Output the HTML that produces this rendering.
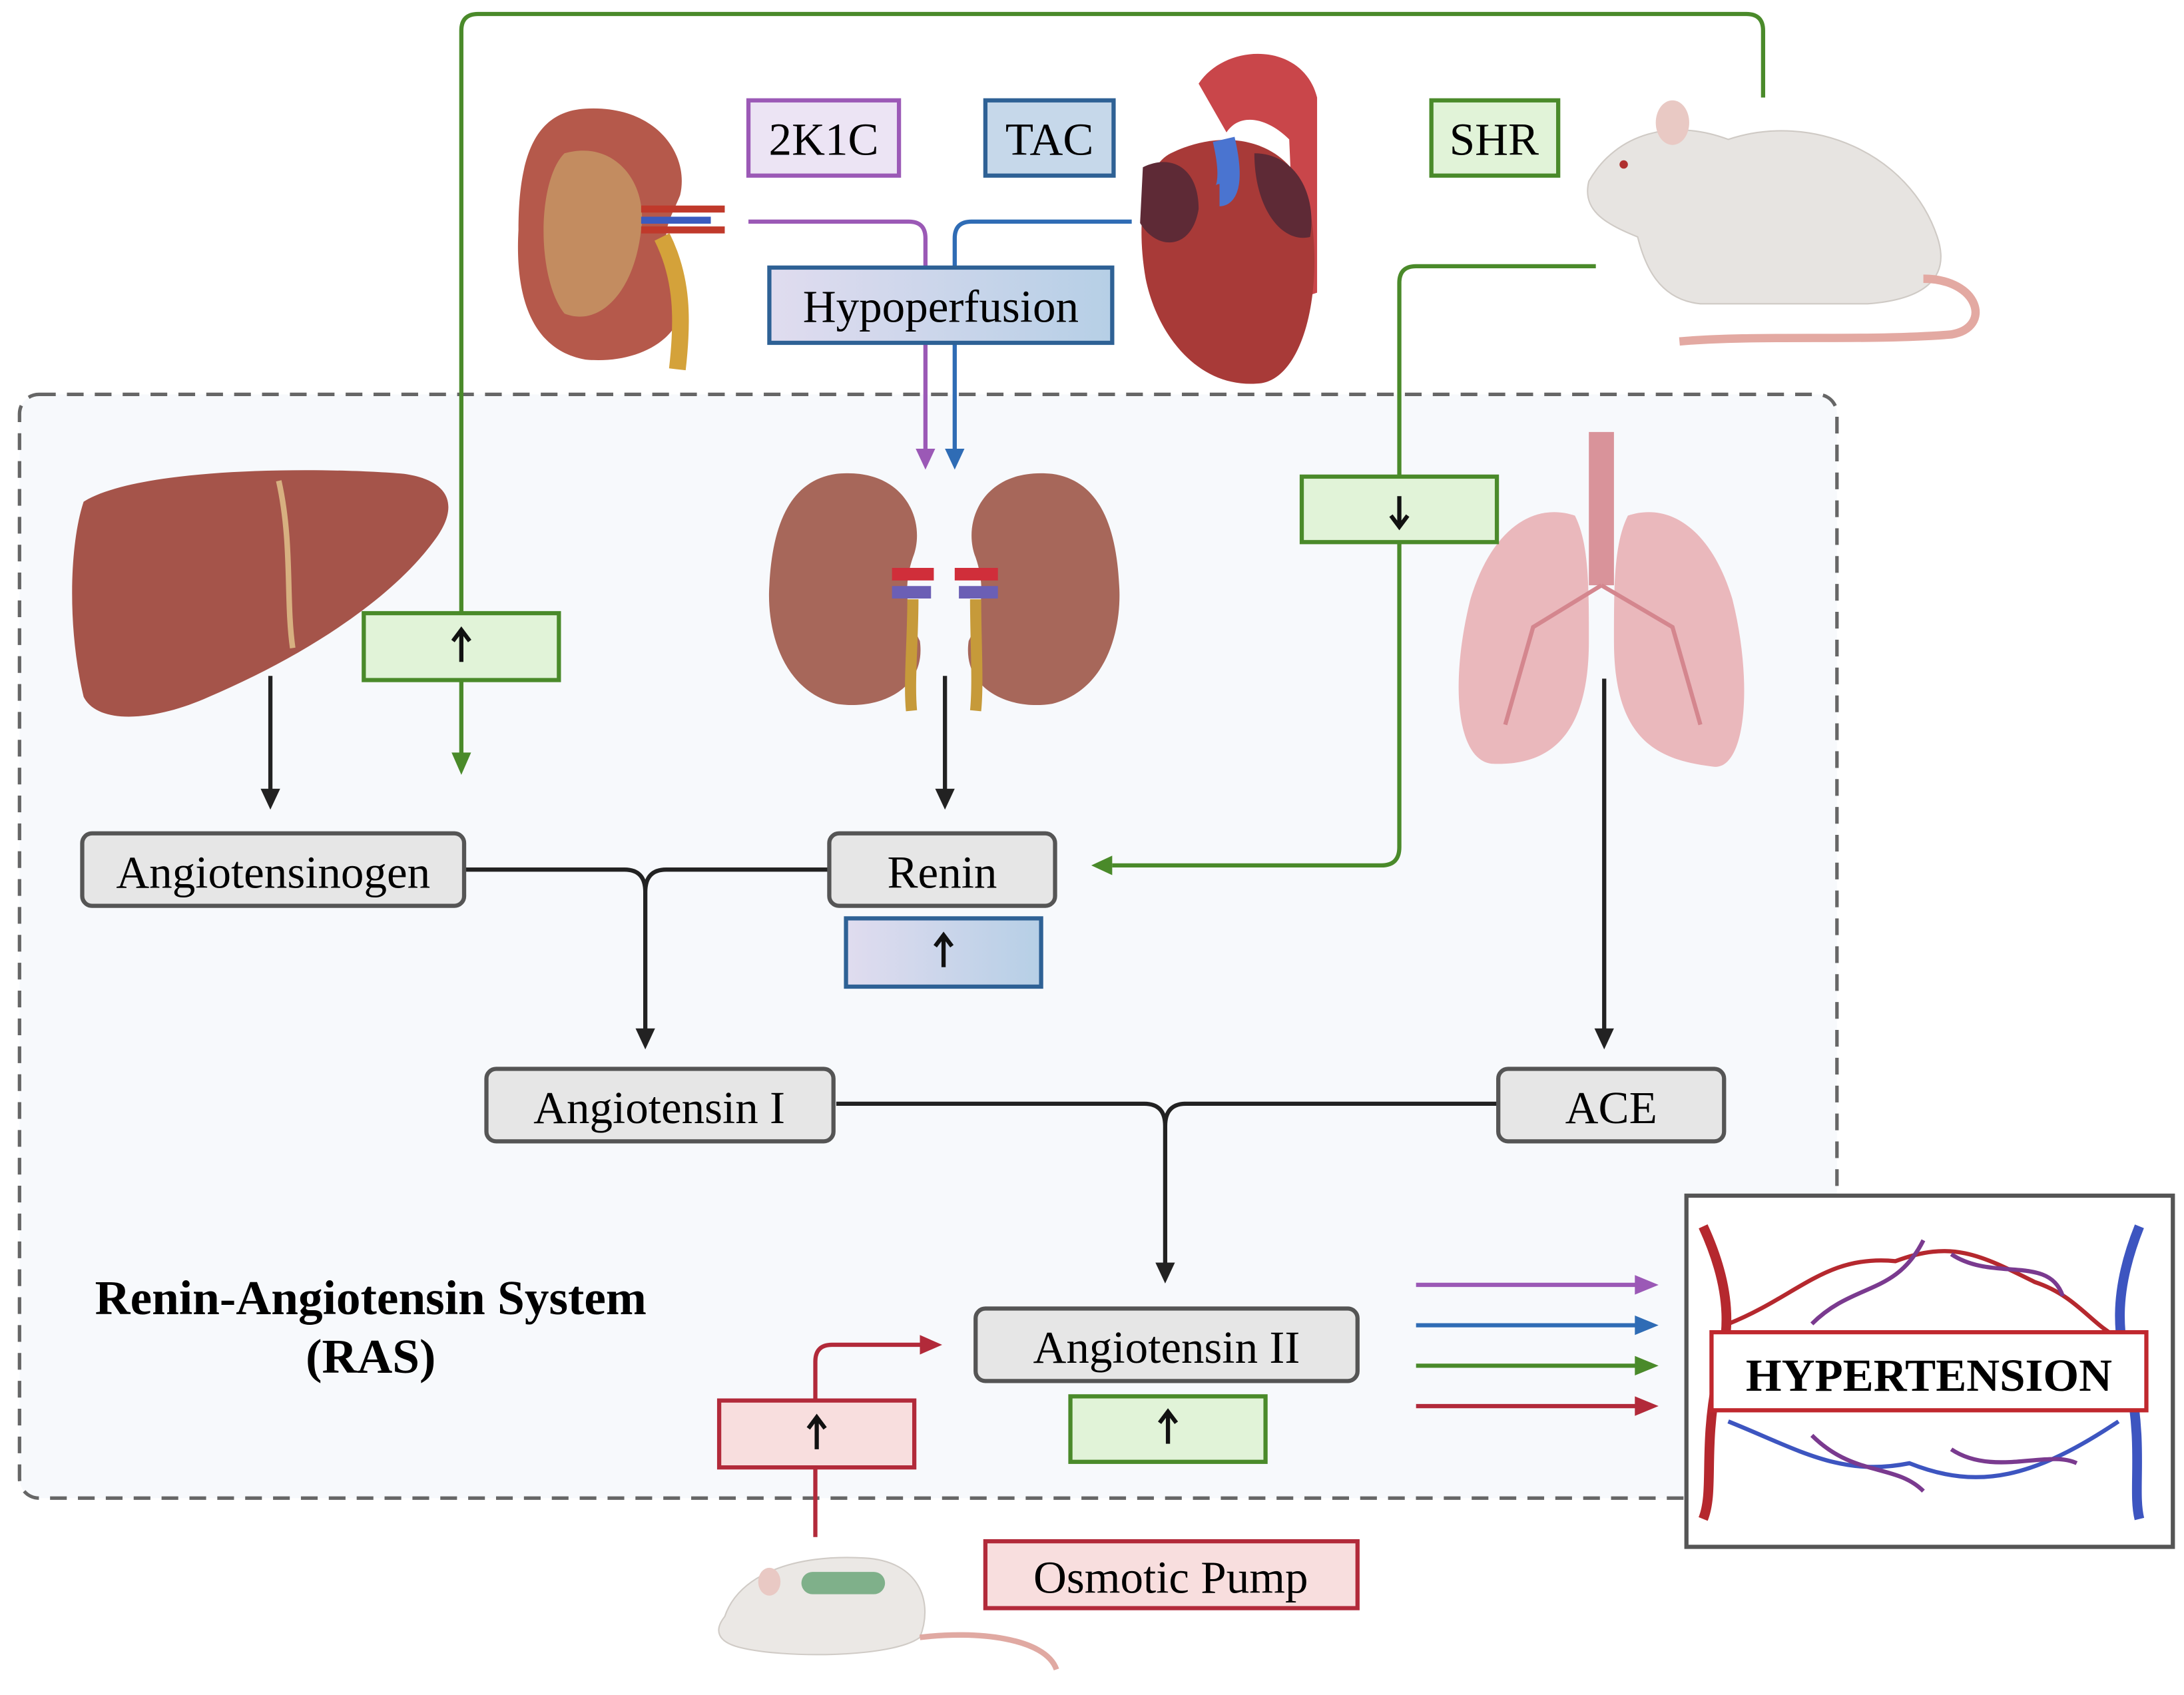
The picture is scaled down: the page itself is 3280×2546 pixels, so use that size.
<!DOCTYPE html>
<html><head><meta charset="utf-8"><style>html,body{margin:0;padding:0;background:#fff}svg{display:block}svg text{font-family:"Liberation Serif","Times New Roman",serif}</style></head><body>
<svg xmlns="http://www.w3.org/2000/svg" width="3280" height="2546" viewBox="0 0 1567 1216.3" style="font-family:'Liberation Serif',serif">
<defs>
<linearGradient id="pb" x1="0" x2="1"><stop offset="0" stop-color="#e0dcef"/><stop offset="1" stop-color="#b6cfe6"/></linearGradient>
</defs>
<rect width="1567" height="1217" fill="#fff"/>
<rect x="14" y="283" width="1304" height="792" rx="14" fill="#f7f9fc" stroke="#666" stroke-width="2.5" stroke-dasharray="12 8"/>

<!-- top kidney -->
<path d="M420,78 C470,75 495,110 488,140 C480,160 470,170 488,200 C500,240 460,262 420,258 C375,250 370,200 372,165 C372,110 385,80 420,78z" fill="#b5594b"/>
<path d="M405,110 C440,100 465,130 460,165 C455,210 430,235 405,225 C385,200 385,130 405,110z" fill="#c9a36a" opacity="0.7"/>
<path d="M460,150 H520 M460,165 H520" stroke="#c0392b" stroke-width="5"/><path d="M460,158 H510" stroke="#3b5bbf" stroke-width="5"/>
<path d="M475,170 C490,200 490,230 486,265" stroke="#d4a23a" stroke-width="12" fill="none"/>
<!-- heart -->
<path d="M860,60 C880,30 935,30 945,70 L945,210 L930,215 L925,100 C910,85 890,80 880,95z" fill="#c9464a"/>
<path d="M840,110 C880,90 930,100 940,150 C950,210 935,270 905,275 C860,280 830,240 822,200 C815,160 820,120 840,110z" fill="#a83a38"/>
<path d="M820,120 C840,110 860,120 860,150 C855,180 830,180 818,160z" fill="#5e2a36"/>
<path d="M900,110 C930,110 945,140 940,170 C920,175 900,150 900,110z" fill="#5e2a36"/>
<path d="M878,100 C885,130 880,140 875,140" stroke="#4a74d0" stroke-width="16" fill="none"/>
<!-- rat top -->
<path d="M1140,130 C1160,95 1200,85 1240,100 C1300,80 1370,110 1390,170 C1400,200 1380,215 1340,218 L1220,218 C1190,215 1180,190 1175,170 C1150,160 1135,150 1140,130z" fill="#e7e4e1" stroke="#cfcac5"/>
<ellipse cx="1200" cy="88" rx="12" ry="16" fill="#e9c9c4"/>
<path d="M1380,200 C1420,200 1430,235 1400,240 C1340,245 1260,240 1205,245" stroke="#e3a9a2" stroke-width="6" fill="none"/>
<circle cx="1165" cy="118" r="3" fill="#b0302f"/>
<!-- liver -->
<path d="M60,360 C100,335 230,335 290,340 C325,345 330,365 310,390 C280,430 220,470 150,500 C110,518 70,520 60,500 C48,450 50,390 60,360z" fill="#a5544a"/>
<path d="M200,345 C210,390 205,430 210,465" stroke="#d7b080" stroke-width="4" fill="none"/>
<!-- kidneys -->
<path d="M600,340 C650,335 665,375 655,400 C648,420 650,440 660,460 C665,495 630,510 600,505 C560,495 550,450 552,420 C554,380 565,345 600,340z" fill="#a7675a"/>
<path d="M755,340 C705,335 690,375 700,400 C707,420 705,440 695,460 C690,495 725,510 755,505 C795,495 805,450 803,420 C801,380 790,345 755,340z" fill="#a7675a"/>
<path d="M640,412 H670 M685,412 H716" stroke="#d02e3a" stroke-width="9"/><path d="M640,425 H668 M688,425 H716" stroke="#6b5fb5" stroke-width="9"/>
<path d="M655,430 C655,460 652,490 654,510 M700,430 C700,460 702,490 700,510" stroke="#c69a3a" stroke-width="8" fill="none"/>
<!-- lungs -->
<path d="M1140,310 H1158 V420 H1140z" fill="#d9939a"/>
<path d="M1130,370 C1100,360 1070,380 1055,430 C1040,490 1045,545 1070,548 C1110,550 1140,530 1140,460 C1140,420 1140,390 1130,370z" fill="#eab8bc"/>
<path d="M1168,370 C1198,360 1228,380 1243,430 C1258,490 1253,555 1228,550 C1188,545 1158,530 1158,460 C1158,420 1158,390 1168,370z" fill="#eab8bc"/>
<path d="M1149,420 L1100,450 L1080,520 M1149,420 L1200,450 L1220,520" stroke="#d4868e" stroke-width="3" fill="none"/>
<!-- mouse -->
<path d="M520,1160 C530,1130 570,1115 620,1118 C660,1120 670,1150 660,1175 C640,1190 560,1190 530,1182 C515,1178 512,1170 520,1160z" fill="#ebe8e5" stroke="#d0cbc6"/>
<rect x="575" y="1128" width="60" height="16" rx="8" fill="#7fb08a"/>
<path d="M660,1175 C700,1170 750,1175 758,1198" stroke="#e0a9a2" stroke-width="4" fill="none"/>
<ellipse cx="552" cy="1135" rx="8" ry="10" fill="#e9c9c4"/>

<!-- connectors -->
<g fill="none" stroke-width="3">
<path d="M331,545 V22 Q331,10 343,10 H1253 Q1265,10 1265,22 V70" stroke="#4a8a2a"/>
<path d="M1145,191 H1016 Q1004,191 1004,203 V608 Q1004,621 991,621 H798" stroke="#4a8a2a"/>
<path d="M537,159 H652 Q664,159 664,171 V326" stroke="#9b59b6"/>
<path d="M812,159 H697 Q685,159 685,171 V326" stroke="#2f6cb5"/>
<path d="M194,485 V570 M678,485 V570 M1151,487 V740" stroke="#222"/>
<path d="M333,624 H448 Q463,624 463,640 V740 M595,624 H478 Q463,624 463,640" stroke="#222"/>
<path d="M600,792 H821 Q836,792 836,808 V908 M1075,792 H851 Q836,792 836,808" stroke="#222"/>
<path d="M585,1103 V977 Q585,965 597,965 H662" stroke="#b22a3a"/>
<path d="M1016,922 H1176" stroke="#9b59b6"/>
<path d="M1016,951 H1176" stroke="#2f6cb5"/>
<path d="M1016,980 H1176" stroke="#4a8a2a"/>
<path d="M1016,1009 H1176" stroke="#b22a3a"/>
</g>
<g>
<path d="M324,540 L338,540 L331,556z" fill="#4a8a2a"/>
<path d="M798,614 L798,628 L783,621z" fill="#4a8a2a"/>
<path d="M657,322 L671,322 L664,337z" fill="#9b59b6"/>
<path d="M678,322 L692,322 L685,337z" fill="#2f6cb5"/>
<path d="M187,566 L201,566 L194,581z M671,566 L685,566 L678,581z M1144,738 L1158,738 L1151,753z M456,738 L470,738 L463,753z M829,906 L843,906 L836,921z" fill="#222"/>
<path d="M660,958 L660,972 L676,965z" fill="#b22a3a"/>
<path d="M1173,915 L1173,929 L1190,922z" fill="#9b59b6"/>
<path d="M1173,944 L1173,958 L1190,951z" fill="#2f6cb5"/>
<path d="M1173,973 L1173,987 L1190,980z" fill="#4a8a2a"/>
<path d="M1173,1002 L1173,1016 L1190,1009z" fill="#b22a3a"/>
</g>

<!-- boxes -->
<g font-size="33" text-anchor="middle">
<rect x="537" y="72" width="108" height="54" fill="#ece4f4" stroke="#9b59b6" stroke-width="3"/><text x="591" y="111">2K1C</text>
<rect x="707" y="72" width="92" height="54" fill="#c6d8ea" stroke="#2e6195" stroke-width="3"/><text x="753" y="111">TAC</text>
<rect x="1027" y="72" width="91" height="54" fill="#e1f3d8" stroke="#4a8a2a" stroke-width="3"/><text x="1072" y="111">SHR</text>
<rect x="552" y="192" width="246" height="54" fill="url(#pb)" stroke="#2e6195" stroke-width="3"/><text x="675" y="231">Hypoperfusion</text>
<g stroke="#111" stroke-width="3" fill="none">
<path d="M331,475 V454 M325,460 L331,452 L337,460"/>
<path d="M1004,356 V377 M998,370 L1004,378 L1010,370"/>
<path d="M677,694 V673 M671,679 L677,671 L683,679"/>
</g>
<rect x="261" y="440" width="140" height="48" fill="#e1f3d8" stroke="#4a8a2a" stroke-width="3"/>
<rect x="934" y="342" width="140" height="47" fill="#e1f3d8" stroke="#4a8a2a" stroke-width="3"/>
<g stroke="#111" stroke-width="3" fill="none">
<path d="M331,475 V454 M325,460 L331,452 L337,460"/>
<path d="M1004,356 V377 M998,370 L1004,378 L1010,370"/>
</g>
<g fill="#e6e6e6" stroke="#555" stroke-width="3">
<rect x="59" y="598" width="274" height="52" rx="7"/><rect x="595" y="598" width="162" height="52" rx="7"/>
<rect x="349" y="767" width="249" height="52" rx="7"/><rect x="1075" y="767" width="162" height="52" rx="7"/>
<rect x="700" y="939" width="274" height="52" rx="7"/>
</g>
<text x="196" y="637">Angiotensinogen</text><text x="676" y="637">Renin</text>
<text x="473" y="806">Angiotensin I</text><text x="1156" y="806">ACE</text>
<text x="837" y="978">Angiotensin II</text>
<rect x="607" y="659" width="140" height="49" fill="url(#pb)" stroke="#2e6195" stroke-width="3"/>
<rect x="768" y="1002" width="140" height="47" fill="#e1f3d8" stroke="#4a8a2a" stroke-width="3"/>
<rect x="516" y="1005" width="140" height="48" fill="#f8dede" stroke="#b22a3a" stroke-width="3"/>
<g stroke="#111" stroke-width="3" fill="none">
<path d="M677,694 V673 M671,679 L677,671 L683,679"/>
<path d="M838,1036 V1015 M832,1021 L838,1013 L844,1021"/>
<path d="M586,1040 V1019 M580,1025 L586,1017 L592,1025"/>
</g>
<rect x="707" y="1106" width="267" height="48" fill="#f8dede" stroke="#b22a3a" stroke-width="3"/><text x="840" y="1143">Osmotic Pump</text>
<text x="266" y="943" font-weight="bold" font-size="35">Renin-Angiotensin System</text>
<text x="266" y="985" font-weight="bold" font-size="35">(RAS)</text>
</g>

<!-- hypertension panel -->
<rect x="1210" y="858" width="349" height="252" fill="#fff" stroke="#555" stroke-width="3"/>
<path d="M1222,880 C1245,930 1240,960 1232,990 C1222,1040 1230,1070 1222,1090" stroke="#b5282e" stroke-width="7" fill="none"/>
<path d="M1535,880 C1515,930 1520,960 1528,990 C1538,1040 1530,1070 1535,1090" stroke="#3d55c0" stroke-width="7" fill="none"/>
<g fill="none" stroke-width="3">
<path d="M1240,950 C1290,930 1310,900 1360,905 C1400,890 1420,900 1460,920 C1490,930 1500,950 1520,960" stroke="#b5282e"/>
<path d="M1300,950 C1330,920 1360,930 1380,890 M1400,900 C1430,920 1470,900 1480,930" stroke="#7a3a8f"/>
<path d="M1240,1020 C1290,1040 1320,1060 1370,1050 C1420,1070 1460,1060 1520,1020" stroke="#3d55c0"/>
<path d="M1300,1030 C1330,1060 1360,1050 1380,1070 M1400,1040 C1430,1060 1470,1040 1490,1050" stroke="#7a3a8f"/>
</g>
<rect x="1228" y="956" width="312" height="56" fill="#fff" stroke="#c0282e" stroke-width="3"/>
<text x="1384" y="998" text-anchor="middle" font-weight="bold" font-size="33">HYPERTENSION</text>
</svg>
</body></html>
